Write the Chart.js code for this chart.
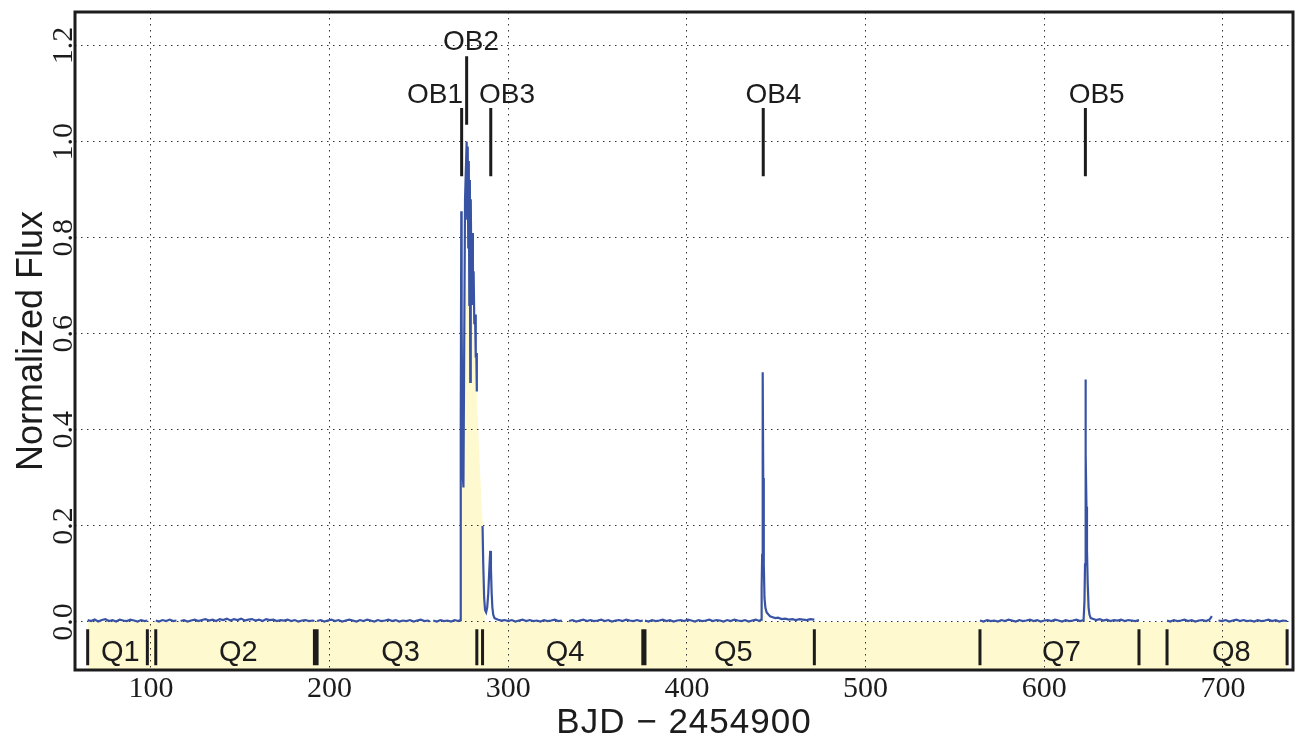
<!DOCTYPE html>
<html><head><meta charset="utf-8">
<script src="https://cdn.jsdelivr.net/npm/chart.js@4.4.1/dist/chart.umd.min.js"></script>
<style>html,body{margin:0;padding:0;background:#fff;}#wrap{width:1295px;height:736px;}</style>
</head><body><div id="wrap"><canvas id="c" width="1295" height="736"></canvas></div>
<script>
// ---------------- DATA ----------------
// Light curve segments (BJD - 2454900, normalized flux)
const q1Time = [64.6,66.5,68.5,70.5,72.5,74.5,76.5,78.5,80.5,82.5,84.5,86.5,88.5,90.5,92.5,94.5,96.5,98.0];
const q1Flux = [0.004,0.002,0.005,0.001,0.004,0.006,0.002,0.004,0.001,0.005,0.003,0.002,0.005,0.003,0.001,0.004,0.002,0.003];

const q2aTime = [102.7,104.5,106.5,108.5,110.5,112.5,114.3];
const q2aFlux = [0.003,0.001,0.004,0.002,0.005,0.002,0.003];

const q2bTime = [116.6,118.5,120.5,122.5,124.5,126.5,128.5,130.5,132.5,134.5,136.5,138.5,140.5,142.5,144.5,146.5,148.5,150.5,152.5,154.5,156.5,158.5,160.5,162.5,164.5,166.5,168.5,170.5,172.5,174.5,176.5,178.5,180.5,182.5,184.5,186.5,188.5,190.5,191.5];
const q2bFlux = [0.002,0.004,0.001,0.003,0.005,0.002,0.004,0.006,0.003,0.005,0.002,0.006,0.004,0.007,0.003,0.006,0.004,0.007,0.003,0.005,0.006,0.003,0.005,0.002,0.006,0.004,0.005,0.002,0.004,0.003,0.005,0.002,0.004,0.001,0.003,0.004,0.002,0.003,0.002];

const q3aTime = [193.0,195,197,199,201,203,205,207,209,211,213,215,217,219,221,223,225,227,229,231,233,235,237,239,241,243,245,247,249,251,253,255,256.0];
const q3aFlux = [0.002,0.004,0.001,0.003,0.005,0.002,0.004,0.001,0.003,0.005,0.003,0.001,0.004,0.002,0.005,0.003,0.001,0.004,0.002,0.003,0.005,0.002,0.004,0.001,0.003,0.002,0.004,0.001,0.003,0.005,0.002,0.003,0.001];

const q3bTime = [258.0,260,262,264,266,268,270,272,273.1,273.4,273.7,273.9,274.2,274.6,274.9,275.3,275.8,276.7,277.0,277.3,277.6,277.9,278.2,278.5,278.7,279.0,279.4,279.8,280.2,280.6,281.0,281.4,281.8,282.1,282.4];
const q3bFlux = [0.003,0.001,0.004,0.002,0.003,0.001,0.004,0.002,0.004,0.40,0.855,0.62,0.45,0.30,0.28,0.55,0.88,1.00,0.84,0.99,0.78,0.96,0.66,0.92,0.50,0.88,0.70,0.81,0.66,0.73,0.62,0.64,0.55,0.56,0.48];

const q4aTime = [285.6,286.0,286.5,287.0,287.6,288.2,288.8,289.4,289.9,290.3,290.7,291.1,291.6,292.3,294,296,298,300,302,304,306,308,310,312,314,316,318,320,322,324,326,328,330.0];
const q4aFlux = [0.20,0.12,0.05,0.025,0.02,0.03,0.06,0.11,0.148,0.11,0.06,0.03,0.015,0.008,0.005,0.003,0.004,0.002,0.004,0.001,0.003,0.005,0.002,0.004,0.002,0.003,0.001,0.004,0.002,0.003,0.005,0.002,0.003];

const q4bTime = [334.0,336,338,340,342,344,346,348,350,352,354,356,358,360,362,364,366,368,370,372,374,375.3];
const q4bFlux = [0.002,0.004,0.001,0.003,0.005,0.002,0.004,0.002,0.003,0.005,0.002,0.004,0.001,0.003,0.004,0.002,0.005,0.003,0.002,0.004,0.002,0.003];

const q5Time = [376.5,378.5,380.5,382.5,384.5,386.5,388.5,390.5,392.5,394.5,396.5,398.5,400.5,402.5,404.5,406.5,408.5,410.5,412.5,414.5,416.5,418.5,420.5,422.5,424.5,426.5,428.5,430.5,432.5,434.5,436.5,438.5,440.5,441.5,441.8,442.1,442.4,442.7,443.0,443.4,443.9,444.6,445.5,446.5,448,449.5,451,453,455,457,459,461,463,465,467,469,471.3];
const q5Flux = [0.003,0.001,0.004,0.002,0.003,0.005,0.002,0.004,0.001,0.003,0.004,0.002,0.005,0.003,0.001,0.004,0.002,0.003,0.005,0.002,0.004,0.003,0.001,0.004,0.002,0.005,0.003,0.002,0.004,0.001,0.003,0.005,0.002,0.005,0.07,0.14,0.52,0.30,0.12,0.05,0.03,0.02,0.016,0.012,0.01,0.008,0.009,0.006,0.007,0.005,0.006,0.004,0.006,0.005,0.004,0.006,0.005];

const q7Time = [564.0,566,568,570,572,574,576,578,580,582,584,586,588,590,592,594,596,598,600,602,604,606,608,610,612,614,616,618,620,622.0,622.5,622.8,623.0,623.3,623.6,623.9,624.3,624.8,625.3,626.0,627.5,629,631,633,635,637,639,641,643,645,647,649,651,653.0];
const q7Flux = [0.003,0.001,0.004,0.002,0.003,0.001,0.004,0.002,0.005,0.003,0.001,0.004,0.002,0.003,0.005,0.002,0.004,0.001,0.003,0.004,0.002,0.005,0.003,0.001,0.004,0.002,0.003,0.005,0.002,0.004,0.045,0.12,0.505,0.35,0.24,0.15,0.08,0.03,0.015,0.008,0.006,0.004,0.006,0.003,0.005,0.002,0.004,0.003,0.005,0.002,0.004,0.003,0.002,0.004];

const q8aTime = [668.7,670.5,672.5,674.5,676.5,678.5,680.5,682.5,684.5,686.5,688.5,690.5,692.5,693.8];
const q8aFlux = [0.003,0.001,0.004,0.002,0.003,0.005,0.002,0.004,0.001,0.003,0.004,0.002,0.005,0.012];

const q8bTime = [697.5,699.5,701.5,703.5,705.5,707.5,709.5,711.5,713.5,715.5,717.5,719.5,721.5,723.5,725.5,727.5,729.5,731.5,733.5,735.9];
const q8bFlux = [0.003,0.002,0.004,0.001,0.003,0.005,0.002,0.004,0.002,0.003,0.001,0.004,0.002,0.003,0.005,0.002,0.004,0.001,0.003,0.002];

// Binned (smoothed) light curve shown as the pale-yellow fill
const binTime = [64.6,272.9,273.3,273.7,274.5,275.5,276.6,277.7,279.0,280.5,282.3,284.0,285.8,286.3,287.0,441.7,442.3,442.8,443.6,622.6,623.2,623.8,624.5,735.9];
const binFlux = [0,0,0.30,0.58,0.60,0.64,0.70,0.77,0.69,0.60,0.48,0.33,0.20,0.06,0,0,0.13,0.10,0,0,0.16,0.10,0,0];

// Outburst annotations
const obNames  = ['OB1','OB2','OB3','OB4','OB5'];
const obTime   = [273.9,276.7,290.2,442.7,623.0];
const obLow    = [0.928,1.035,0.928,0.928,0.928];
const obHigh   = [1.070,1.178,1.070,1.070,1.070];
const obLabelX = [259.0,279.1,299.3,448.4,629.3];
const obLabelY = [1.080,1.190,1.080,1.080,1.080];

// Kepler quarters
const quarterEdges  = [64.6,98.0,102.7,191.5,193.0,282.4,285.6,375.3,376.5,471.3,564.0,653.0,668.7,735.9];
const quarterNames  = ['Q1','Q2','Q3','Q4','Q5','Q7','Q8'];
const quarterLabelX = [82.9,148.9,239.7,331.8,425.9,609.6,704.7];
const quarterTickTop = -0.015, quarterTickBottom = -0.09, quarterLabelY = -0.081;

// Axes
const xTickValues = [100,200,300,400,500,600,700];
const yTickValues = [0.0,0.2,0.4,0.6,0.8,1.0,1.2];
const X_MIN = 57.5, X_MAX = 739.2, Y_MIN = -0.1, Y_MAX = 1.27;
const xTitle = 'BJD \u2212 2454900';
const yTitle = 'Normalized Flux';

// ---------------- BUILD ----------------
const segments = [[q1Time,q1Flux],[q2aTime,q2aFlux],[q2bTime,q2bFlux],[q3aTime,q3aFlux],[q3bTime,q3bFlux],
  [q4aTime,q4aFlux],[q4bTime,q4bFlux],[q5Time,q5Flux],[q7Time,q7Flux],[q8aTime,q8aFlux],[q8bTime,q8bFlux]];
const lightCurve = [];
segments.forEach(([t,f]) => {
  t.forEach((v,i) => lightCurve.push({x:v, y:f[i]}));
  lightCurve.push({x:t[t.length-1], y:null});
});
const fillPts = binTime.map((t,i) => ({x:t, y:binFlux[i]}));
const markerPts = [];
obTime.forEach((t,i) => { markerPts.push({x:t,y:obLow[i]},{x:t,y:obHigh[i]},{x:t,y:null}); });
quarterEdges.forEach(t => { markerPts.push({x:t,y:quarterTickTop},{x:t,y:quarterTickBottom},{x:t,y:null}); });

const INK = '#1c1c1c';
const BLUE = '#3853a4';
const YELLOW = 'rgb(255,249,208)';

const textPlugin = {
  id: 'texts',
  afterDraw(chart) {
    const {ctx, chartArea: a, scales: {x, y}} = chart;
    ctx.save();
    ctx.lineWidth = 3; ctx.strokeStyle = INK;
    ctx.strokeRect(a.left, a.top, a.right - a.left, a.bottom - a.top);
    ctx.fillStyle = INK;
    // y tick labels (rotated)
    ctx.font = '30px "Liberation Serif"';
    ctx.textAlign = 'center'; ctx.textBaseline = 'alphabetic';
    y.ticks.forEach(t => {
      ctx.save(); ctx.translate(71.5, y.getPixelForValue(t.value)); ctx.rotate(-Math.PI/2);
      ctx.fillText(t.value.toFixed(1), 0, 0); ctx.restore();
    });
    // x tick labels
    x.ticks.forEach(t => ctx.fillText(String(t.value), x.getPixelForValue(t.value), 697));
    // titles
    ctx.font = '35px "Liberation Sans"';
    ctx.letterSpacing = '1px';
    ctx.fillText(xTitle, (a.left + a.right) / 2, 733);
    ctx.letterSpacing = '0px';
    ctx.font = '36px "Liberation Sans"';
    ctx.save(); ctx.translate(42, (a.top + a.bottom) / 2); ctx.rotate(-Math.PI/2);
    ctx.fillText(yTitle, 0, 0); ctx.restore();
    // outburst labels
    ctx.font = '28px "Liberation Sans"';
    obNames.forEach((n,i) => ctx.fillText(n, x.getPixelForValue(obLabelX[i]), y.getPixelForValue(obLabelY[i])));
    // quarter labels
    ctx.font = '29px "Liberation Sans"';
    quarterNames.forEach((n,i) => ctx.fillText(n, x.getPixelForValue(quarterLabelX[i]), y.getPixelForValue(quarterLabelY)));
    ctx.restore();
  }
};

const gridOpts = {color: '#333', lineWidth: 1, drawTicks: false};
new Chart(document.getElementById('c'), {
  type: 'line',
  data: { datasets: [
    {label: 'binned', data: fillPts, borderWidth: 0, pointRadius: 0, fill: 'start', backgroundColor: YELLOW, tension: 0},
    {label: 'flux', data: lightCurve, borderColor: BLUE, borderWidth: 2.2, pointRadius: 0, fill: false, spanGaps: false, tension: 0},
    {label: 'markers', data: markerPts, borderColor: INK, borderWidth: 3, pointRadius: 0, fill: false, spanGaps: false, borderCapStyle: 'butt'}
  ]},
  options: {
    responsive: false, animation: false, events: [],
    layout: {padding: {left: 75, right: 2, top: 12, bottom: 66}},
    plugins: {legend: {display: false}, tooltip: {enabled: false}, filler: {drawTime: 'beforeDraw'}},
    scales: {
      x: {type: 'linear', min: X_MIN, max: X_MAX,
          afterBuildTicks: s => { s.ticks = xTickValues.map(v => ({value: v})); },
          afterFit: s => { s.height = 0; },
          ticks: {display: false}, grid: gridOpts, border: {display: false, dash: [1.5, 4.5]}},
      y: {type: 'linear', min: Y_MIN, max: Y_MAX,
          afterBuildTicks: s => { s.ticks = yTickValues.map(v => ({value: v})); },
          afterFit: s => { s.width = 0; },
          ticks: {display: false}, grid: gridOpts, border: {display: false, dash: [1.5, 4.5]}}
    }
  },
  plugins: [textPlugin]
});
</script></body></html>
